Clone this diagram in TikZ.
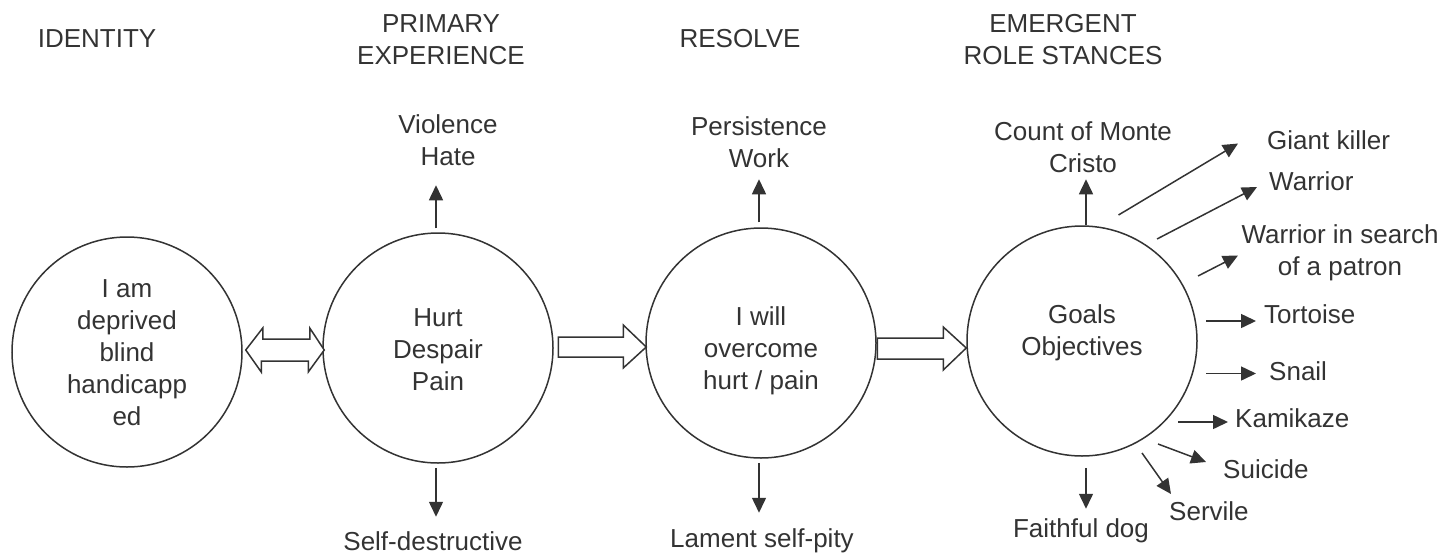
\documentclass[tikz,border=0pt]{standalone}
\usepackage{fontspec}
\setmainfont{Liberation Sans}
\usetikzlibrary{arrows.meta,calc}
\definecolor{ink}{HTML}{333333}
\begin{document}
\begin{tikzpicture}[x=1pt,y=-1pt,
  txt/.style={text=ink,font=\fontsize{26}{32}\selectfont,align=center,inner sep=0pt,text height=18.6pt,text depth=0pt},
  circ/.style={draw=ink,line width=1.5pt,circle,minimum size=230pt,inner sep=0pt},
  arr/.style={draw=ink,line width=1.5pt,-{Triangle[length=15pt,width=14pt]}},
  blk/.style={draw=ink,line width=1.5pt,fill=white,line join=miter}]
\useasboundingbox (0,0) rectangle (1442,557);
% (multi-line text nodes are placed by their last line)

% headers
\node[txt] (h1) at (97,38) {IDENTITY};
\node[txt] (h2) at (441,55) {PRIMARY\\EXPERIENCE};
\node[txt] (h3) at (740,38) {RESOLVE};
\node[txt] (h4) at (1063,55) {EMERGENT\\ROLE STANCES};

% circles
\node[circ] (c1) at (127,352) {};
\node[circ] (c2) at (438,348) {};
\node[circ] (c3) at (761,343) {};
\node[circ] (c4) at (1082,341) {};

\node[txt] (t1) at (127,416) {I am\\deprived\\blind\\handicapp\\ed};
\node[txt] (t2) at (438,381) {Hurt\\Despair\\Pain};
\node[txt] (t3) at (761,380) {I will\\overcome\\hurt / pain};
\node[txt] (t4) at (1082,346) {Goals\\Objectives};

% block arrows
\coordinate (d1) at ($(c1.east)+(3,-2)$);
\coordinate (d2) at ($(c2.west)+(2,2)$);
\draw[blk] (d1) -- ++(17,-22) -- ++(0,11) -- ++(47,0) -- ++(0,-11) -- (d2)
  -- ++(-16,22) -- ++(0,-11) -- ++(-47,0) -- ++(0,11) -- cycle;

\coordinate (e2) at ($(c3.west)+(1,4)$);
\draw[blk] (e2) -- ++(-23,-22) -- ++(0,12) -- ++(-65,0) -- ++(0,20) -- ++(65,0) -- ++(0,11) -- cycle;

\coordinate (e3) at ($(c4.west)+(0,7)$);
\draw[blk] (e3) -- ++(-23,-21) -- ++(0,11) -- ++(-66,0) -- ++(0,21) -- ++(66,0) -- ++(0,11) -- cycle;

% labels above / below
\node[txt] (l2u) at (448,156) {Violence\\Hate};
\node[txt] (l2d) at (433,541) {Self-destructive};
\node[txt] (l3u) at (759,158) {Persistence\\Work};
\node[txt] (l3d) at (762,538) {Lament self-pity};
\node[txt] (l4u) at (1083,163) {Count of Monte\\Cristo};
\node[txt] (l4d) at (1081,528) {Faithful dog};

\draw[arr] ([shift={(-2,-4)}]c2.north) -- ++(0,-43);
\draw[arr] ([shift={(-2,4)}]c2.south) -- ++(0,49);
\draw[arr] ([shift={(-2,-5)}]c3.north) -- ++(0,-43);
\draw[arr] ([shift={(-2,4)}]c3.south) -- ++(0,50);
\draw[arr] ([shift={(4,0)}]c4.north) -- ++(0,-46);
\draw[arr] ([shift={(4,11)}]c4.south) -- ++(0,41);

% right-hand stances
\node[txt,anchor=west] (s1) at (1267,140) {Giant killer};
\node[txt,anchor=west] (s2) at (1269,181) {Warrior};
\node[txt] (s3) at (1340,266.5) {Warrior in search\\of a patron};
\node[txt,anchor=west] (s4) at (1264,314) {Tortoise};
\node[txt,anchor=west] (s5) at (1269,371) {Snail};
\node[txt,anchor=west] (s6) at (1235,418) {Kamikaze};
\node[txt,anchor=west] (s7) at (1223,469) {Suicide};
\node[txt,anchor=west] (s8) at (1169,511) {Servile};

\coordinate (a1) at (1118.5,215);  \coordinate (b1) at (1238,143.5);
\coordinate (a2) at (1157,239);    \coordinate (b2) at (1257,187);
\coordinate (a3) at (1198,276);    \coordinate (b3) at (1238,255.5);
\coordinate (a4) at (1206,321);    \coordinate (b4) at (1256,321);
\coordinate (a5) at (1206,373.5);  \coordinate (b5) at (1256,373.5);
\coordinate (a6) at (1178,422);    \coordinate (b6) at (1228,422);
\coordinate (a7) at (1158,444);    \coordinate (b7) at (1206,462);
\coordinate (a8) at (1142,453);    \coordinate (b8) at (1171,494);
\foreach \i in {1,...,8} {\draw[arr] (a\i) -- (b\i);}
\end{tikzpicture}
\end{document}
